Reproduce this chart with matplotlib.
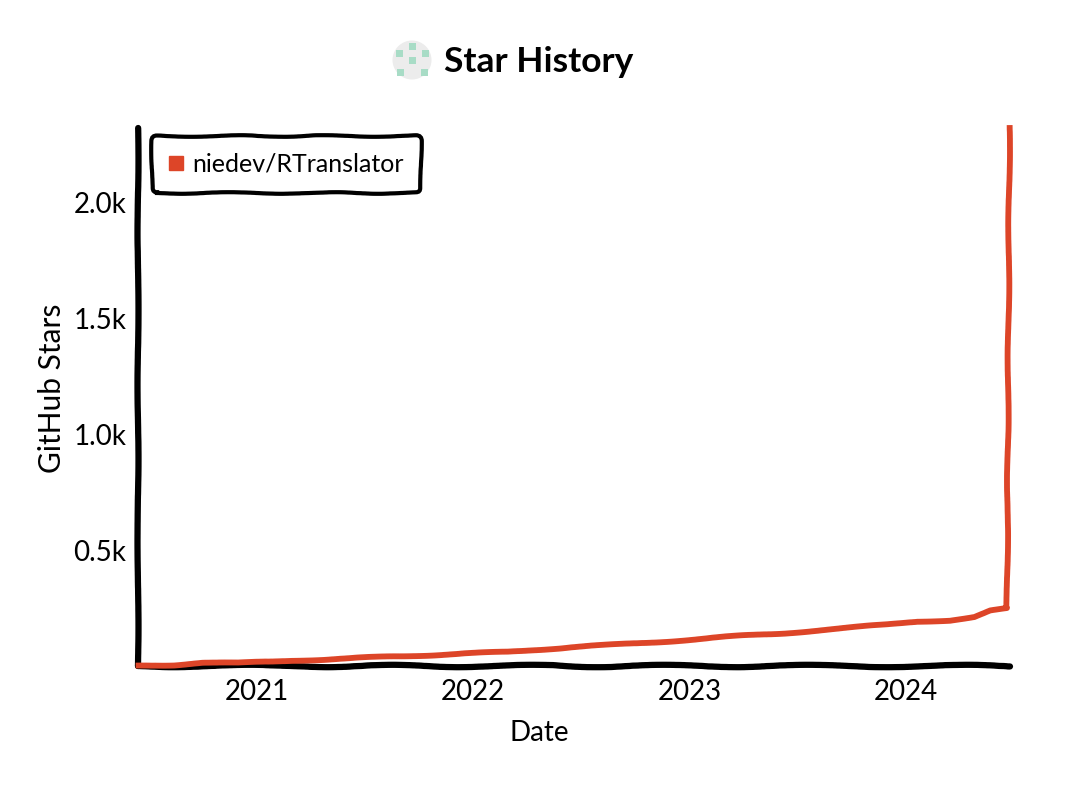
import matplotlib
matplotlib.use('Agg')
import matplotlib.pyplot as plt
import matplotlib.dates as mdates
import matplotlib.patches as patches
from matplotlib.lines import Line2D
from datetime import datetime
from matplotlib.ticker import FuncFormatter

plt.rcParams['font.family'] = ['Lato', 'DejaVu Sans']

dates = ['2020-06-16', '2020-08-15', '2020-10-01', '2020-12-01', '2021-03-01', '2021-06-01',
         '2021-09-01', '2021-12-01', '2022-03-01', '2022-06-15', '2022-09-01', '2022-12-01',
         '2023-03-01', '2023-06-01', '2023-09-01', '2023-12-01', '2024-01-20', '2024-03-15',
         '2024-04-25', '2024-05-22', '2024-06-19', '2024-06-23']
stars = [2, 5, 14, 12, 24, 32, 42, 52, 60, 82, 92, 108,
         125, 140, 160, 178, 192, 198, 212, 238, 247, 2320]
repo = 'niedev/RTranslator'
line_color = '#dd4528'
year_ticks = ['2021', '2022', '2023', '2024']
y_ticks = [500, 1000, 1500, 2000]

x = [datetime.strptime(d, '%Y-%m-%d') for d in dates]

fig = plt.figure(figsize=(10.8, 7.92), dpi=100)
ax = fig.add_axes([138/1080, 1 - 666/792, (1010 - 138)/1080, (666 - 128)/792])

line, = ax.plot(x, stars, color=line_color, lw=4.2, zorder=5, clip_on=False,
                solid_joinstyle='round')
line.set_sketch_params(scale=0.7, length=160, randomness=3)

ax.set_xlim(datetime(2020, 6, 15), datetime(2024, 6, 24))
ax.set_ylim(0, 2320)
ax.set_xticks([datetime(int(y), 1, 1) for y in year_ticks])
ax.xaxis.set_major_formatter(mdates.DateFormatter('%Y'))
ax.set_yticks(y_ticks)
ax.yaxis.set_major_formatter(FuncFormatter(lambda v, p: f'{v/1000:.1f}k'))
ax.tick_params(length=0, labelsize=20)
ax.tick_params(axis='x', pad=9)
ax.tick_params(axis='y', pad=8.5)

for side in ['top', 'right']:
    ax.spines[side].set_visible(False)
for side in ['left', 'bottom']:
    ax.spines[side].set_linewidth(4.5)
    ax.spines[side].set_capstyle('round')
ax.spines['left'].set_sketch_params(scale=0.5, length=200, randomness=3)
ax.spines['bottom'].set_sketch_params(scale=1.2, length=180, randomness=3)

ax.set_xlabel('Date', fontsize=20)
ax.xaxis.set_label_coords(0.46, -0.1)
ax.set_ylabel('GitHub Stars', fontsize=21.5)
ax.yaxis.set_label_coords(-0.083, 0.517)

handle = Line2D([0], [0], linestyle='none', marker='s', markersize=9.5, color=line_color)
leg = ax.legend(handles=[handle], labels=[repo], loc='upper left', bbox_to_anchor=(0.016, 0.986),
                borderaxespad=0, frameon=True, fontsize=18, handlelength=0.55, borderpad=0.68,
                handletextpad=0.4, fancybox=True, framealpha=1, edgecolor='black')
leg.get_frame().set_linewidth(3)
leg.get_frame().set_sketch_params(scale=0.8, length=120, randomness=3)

fig.text(539/1080, 1 - 62/792, 'Star History', fontsize=25.5, fontweight='bold',
         ha='center', va='center')

# logo next to the title
logo = fig.add_axes([392/1080, 1 - 80/792, 40/1080, 40/792])
logo.set_xlim(0, 40)
logo.set_ylim(40, 0)
logo.axis('off')
logo.add_patch(patches.Circle((20, 20), 19.5, color='#ececec', lw=0))
for sx, sy in [(20, 6), (7, 13), (33, 13), (20, 20), (8, 32), (32, 32)]:
    logo.add_patch(patches.Rectangle((sx - 3.5, sy - 3.5), 7, 7, color='#a8dcc6', lw=0))

fig.savefig('out.png', dpi=100, facecolor='white')
